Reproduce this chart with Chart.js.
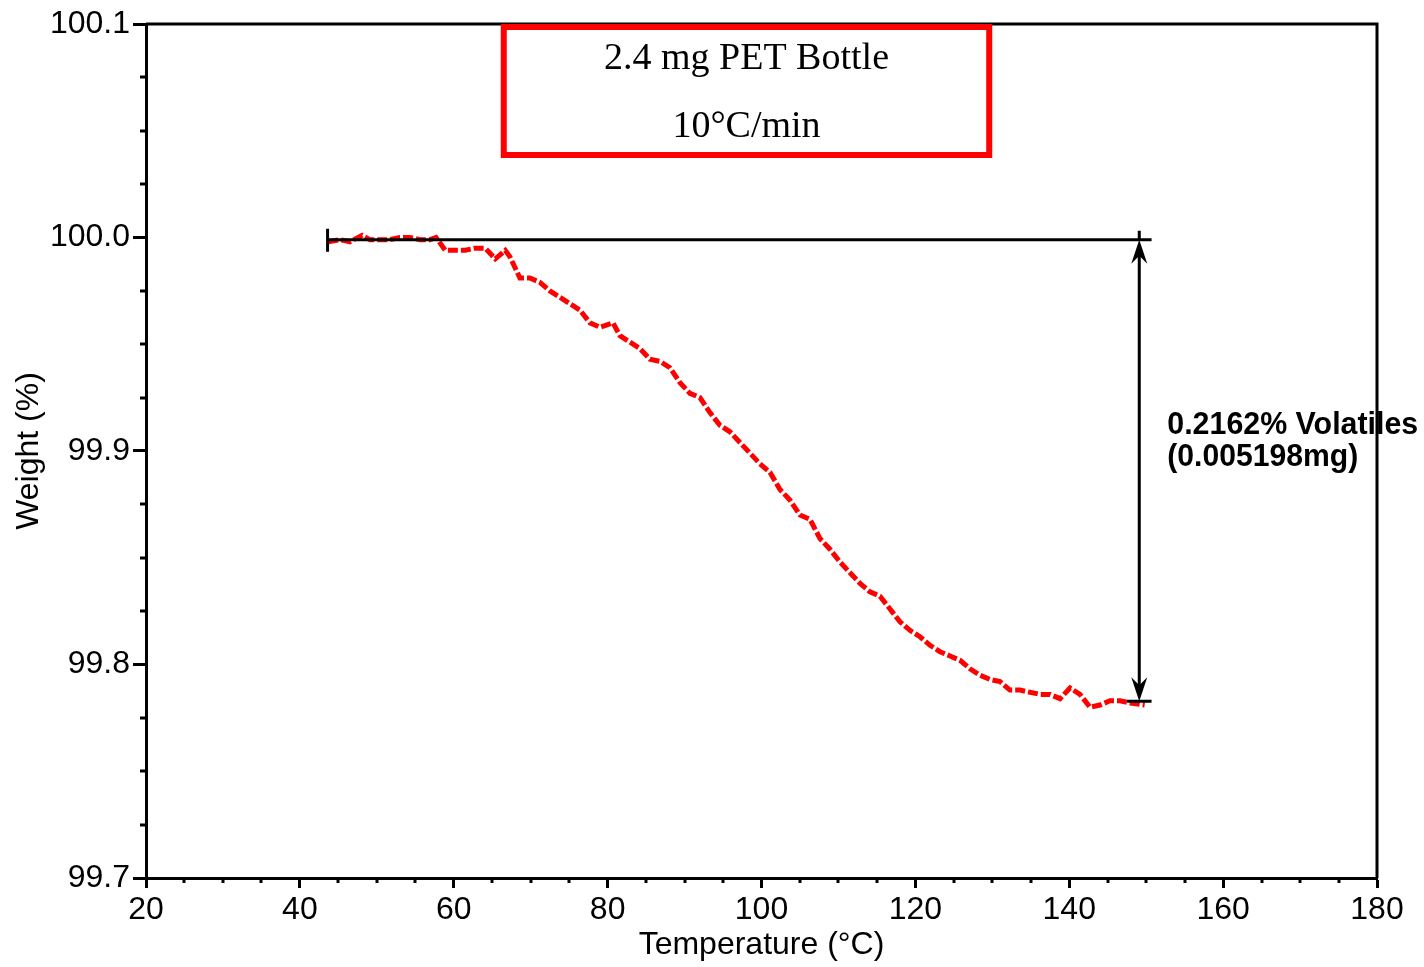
<!DOCTYPE html>
<html>
<head>
<meta charset="utf-8">
<script src="https://cdn.jsdelivr.net/npm/chart.js@4"></script>
<style>
  html, body { margin: 0; padding: 0; background: #fff; }
  #wrap { width: 1424px; height: 967px; }
</style>
</head>
<body>
<div id="wrap"><canvas id="tgaChart"></canvas></div>
<script>
// temperature (°C) and weight (%)
const temps = [43.7, 45.2, 46.5, 48.1, 49.1, 50.4, 51.7, 53.0, 54.3, 55.6, 56.9, 57.7,
  58.9, 60.2, 61.5, 62.8, 64.1, 65.4, 66.7, 67.3, 68.6, 69.9, 71.2, 72.5, 73.8, 75.1,
  76.4, 77.7, 79.0, 80.7, 81.6, 82.9, 84.2, 85.5, 86.8, 88.1, 89.4, 90.7, 92.0, 93.3,
  94.6, 95.9, 97.2, 98.5, 99.8, 101.1, 102.4, 103.7, 105.0, 106.3, 107.6, 108.9, 110.2,
  111.5, 112.8, 114.1, 115.4, 116.7, 118.0, 119.3, 120.6, 121.9, 123.2, 124.5, 125.8,
  127.1, 128.4, 129.7, 131.0, 132.3, 133.6, 134.9, 136.2, 137.5, 138.8, 140.1, 141.4,
  142.7, 144.0, 145.3, 146.6, 147.9, 149.8];
const weights = [99.998, 99.999, 99.998, 100.001, 99.999, 99.999, 99.999, 100.000, 100.000, 99.999, 99.999, 100.000,
  99.994, 99.994, 99.994, 99.995, 99.995, 99.990, 99.994, 99.991, 99.981, 99.981, 99.979, 99.975, 99.972, 99.969,
  99.966, 99.960, 99.958, 99.960, 99.954, 99.951, 99.948, 99.943, 99.942, 99.939, 99.932, 99.927, 99.925, 99.918,
  99.912, 99.909, 99.904, 99.899, 99.894, 99.890, 99.882, 99.877, 99.870, 99.868, 99.859, 99.854, 99.848,
  99.843, 99.838, 99.834, 99.832, 99.826, 99.820, 99.816, 99.813, 99.809, 99.806, 99.804, 99.802,
  99.798, 99.795, 99.793, 99.792, 99.788, 99.788, 99.787, 99.786, 99.786, 99.784, 99.789, 99.786,
  99.780, 99.781, 99.783, 99.783, 99.782, 99.781];

const yTicks = [99.7, 99.8, 99.9, 100.0, 100.1];
const xTicks = [20, 40, 60, 80, 100, 120, 140, 160, 180];

// step annotation
const stepStartT = 43.6;
const stepEndT = 150.7;
const arrowT = 149.1;
const bottomBarT = 147.5;
const stepTopW = 99.9990;
const stepBottomW = 99.7828;
const stepLabel = ['0.2162% Volatiles', '(0.005198mg)'];
const boxLines = ['2.4 mg PET Bottle', '10°C/min'];

const sans = '"Liberation Sans", Arial, sans-serif';

const extras = {
  id: 'extras',
  afterDraw(chart) {
    const c = chart.ctx, a = chart.chartArea;
    const xs = chart.scales.x, ys = chart.scales.y;
    c.save();
    // top & right frame
    c.strokeStyle = '#000';
    c.lineWidth = 3;
    c.beginPath();
    c.moveTo(a.left, a.top); c.lineTo(a.right, a.top); c.lineTo(a.right, a.bottom);
    c.stroke();

    // minor ticks
    c.lineWidth = 3;
    c.beginPath();
    for (let v = 25; v < 180; v += 5) {
      if (v % 20 === 0) continue;
      const px = Math.round(xs.getPixelForValue(v));
      c.moveTo(px, a.bottom); c.lineTo(px, a.bottom + 5);
    }
    for (let i = 1; i < 16; i++) {
      if (i % 4 === 0) continue;
      const py = Math.round(ys.getPixelForValue(99.7 + i * 0.025));
      c.moveTo(a.left, py); c.lineTo(a.left - 6, py);
    }
    c.stroke();

    // step annotation
    const x0 = xs.getPixelForValue(stepStartT);
    const x1 = xs.getPixelForValue(stepEndT);
    const xa = xs.getPixelForValue(arrowT);
    const xb = xs.getPixelForValue(bottomBarT);
    const yt = ys.getPixelForValue(stepTopW);
    const yb = ys.getPixelForValue(stepBottomW);
    c.lineWidth = 3;
    c.beginPath();
    c.moveTo(x0, yt); c.lineTo(x1, yt);
    c.moveTo(x0, yt - 11); c.lineTo(x0, yt + 12);
    c.moveTo(xa, yt - 9); c.lineTo(xa, yt);
    c.moveTo(xb, yb); c.lineTo(x1, yb);
    c.stroke();
    c.lineWidth = 3;
    c.beginPath();
    c.moveTo(xa, yt + 10); c.lineTo(xa, yb - 10);
    c.stroke();
    // arrow heads
    c.fillStyle = '#000';
    c.beginPath();
    c.moveTo(xa, yt); c.lineTo(xa - 8, yt + 24); c.lineTo(xa, yt + 16); c.lineTo(xa + 8, yt + 24);
    c.closePath(); c.fill();
    c.beginPath();
    c.moveTo(xa, yb); c.lineTo(xa - 8, yb - 24); c.lineTo(xa, yb - 16); c.lineTo(xa + 8, yb - 24);
    c.closePath(); c.fill();

    c.font = 'bold 32px ' + sans;
    c.textAlign = 'left';
    c.textBaseline = 'alphabetic';
    c.fillText(stepLabel[0], xa + 28, 434, 251);
    c.fillText(stepLabel[1], xa + 28, 466, 191);

    // sample box
    const bx0 = xs.getPixelForValue(66.5), bx1 = xs.getPixelForValue(129.6);
    c.fillStyle = '#fff';
    c.fillRect(bx0, a.top, bx1 - bx0, 131);
    c.strokeStyle = '#ff0000';
    c.lineWidth = 6;
    c.strokeRect(bx0, a.top + 3, bx1 - bx0, 128);
    c.fillStyle = '#000';
    c.font = '38px "Liberation Serif", "Times New Roman", serif';
    c.textAlign = 'center';
    const cx = (bx0 + bx1) / 2;
    c.fillText(boxLines[0], cx, a.top + 45);
    c.fillText(boxLines[1], cx, a.top + 113);
    c.restore();
  }
};

new Chart(document.getElementById('tgaChart'), {
  type: 'scatter',
  data: {
    datasets: [{
      label: 'Weight',
      data: temps.map((t, i) => ({ x: t, y: weights[i] })),
      showLine: true,
      borderColor: '#ff0000',
      borderWidth: 5,
      borderDash: [10, 3],
      pointRadius: 0,
      tension: 0
    }]
  },
  options: {
    responsive: true,
    maintainAspectRatio: false,
    animation: false,
    layout: { padding: { top: 24, right: 47, left: 0, bottom: 0 } },
    plugins: { legend: { display: false }, tooltip: { enabled: false } },
    scales: {
      x: {
        type: 'linear',
        min: 20, max: 180,
        afterBuildTicks: s => { s.ticks = xTicks.map(v => ({ value: v })); },
        afterFit: s => { s.height = 89; },
        border: { color: '#000', width: 3 },
        grid: { drawOnChartArea: false, color: '#000', tickLength: 10, tickWidth: 3 },
        ticks: { color: '#000', padding: 3, maxRotation: 0, font: { family: sans, size: 32 } },
        title: { display: true, text: 'Temperature (°C)', color: '#000', padding: { top: 0, bottom: 3 }, font: { family: sans, size: 32 } }
      },
      y: {
        type: 'linear',
        min: 99.7, max: 100.1,
        afterBuildTicks: s => { s.ticks = yTicks.map(v => ({ value: v })); },
        afterFit: s => { s.width = 146; },
        border: { color: '#000', width: 3 },
        grid: { drawOnChartArea: false, color: '#000', tickLength: 13, tickWidth: 3 },
        ticks: { color: '#000', padding: 3, font: { family: sans, size: 32 }, callback: v => v.toFixed(1) },
        title: { display: true, text: 'Weight (%)', color: '#000', padding: { top: 10, bottom: 0 }, font: { family: sans, size: 32 } }
      }
    }
  },
  plugins: [extras]
});
</script>
</body>
</html>
